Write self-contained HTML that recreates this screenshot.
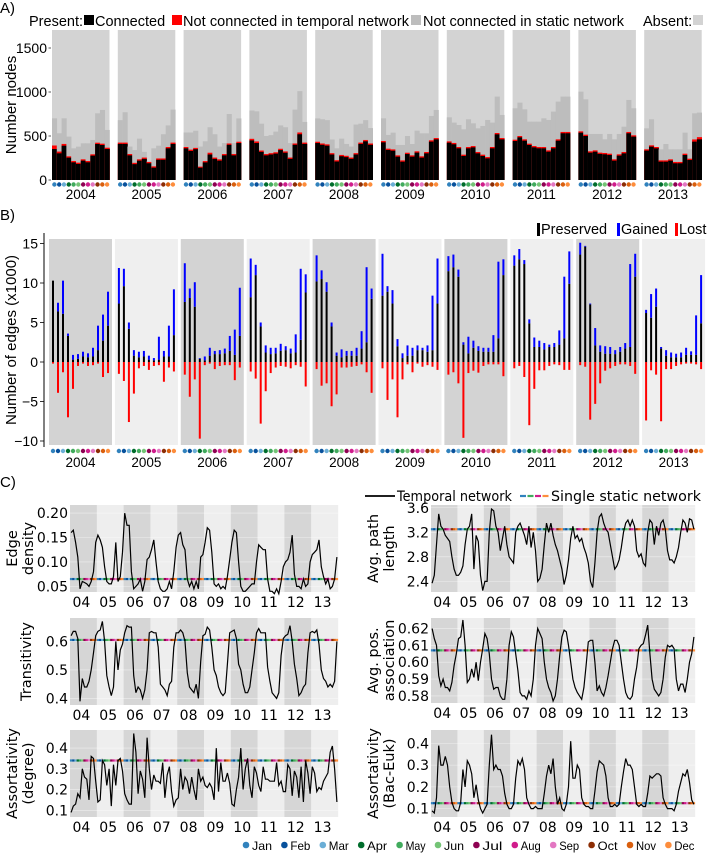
<!DOCTYPE html>
<html><head><meta charset="utf-8"><style>
body{margin:0;background:#fff}
svg{display:block;font-family:"Liberation Sans",sans-serif}
.dj{font-family:"DejaVu Sans",sans-serif}
</style></head><body>
<svg id="fig" width="708" height="854" viewBox="0 0 708 854"></svg>
<script>
// ===== Panel A data (nodes) =====
const years = ["2004","2005","2006","2007","2008","2009","2010","2011","2012","2013"];
const monthNames = ["Jan","Feb","Mar","Apr","May","Jun","Jul","Aug","Sep","Oct","Nov","Dec"];
const monthColors = ["#3182bd","#08519c","#6baed6","#006d2c","#41ab5d","#74c476","#8e0152","#d01c8b","#e377c2","#8c2d04","#d95f0e","#fd8d3c"];
const connected = [
 [352,303,390,254,201,182,220,201,277,409,398,352],
 [410,410,280,180,220,240,190,140,230,230,360,410],
 [360,330,350,140,200,290,240,220,280,400,280,420],
 [450,420,320,280,290,300,340,310,240,400,520,410],
 [420,400,390,290,210,270,260,240,290,410,440,400],
 [428,341,333,265,208,295,265,311,254,303,436,462],
 [424,406,360,273,360,371,303,273,246,360,519,462],
 [443,485,447,398,371,360,360,322,360,447,531,531],
 [538,500,311,322,296,292,284,220,277,303,531,493],
 [334,379,360,208,208,220,190,190,284,227,436,462]];
const notConnTemporal = [
 [40,20,20,15,15,15,15,15,15,15,15,15],
 [15,15,15,15,15,15,15,15,15,15,15,15],
 [15,15,15,12,15,20,15,15,15,15,15,15],
 [18,18,15,15,15,15,15,15,15,15,20,15],
 [15,15,15,15,15,15,15,15,15,15,15,15],
 [15,15,15,15,15,15,15,15,15,15,15,15],
 [15,15,15,15,15,15,15,15,15,15,15,15],
 [15,15,15,15,15,15,15,15,15,15,15,15],
 [15,15,15,15,15,15,15,15,15,15,15,15],
 [15,15,15,15,15,15,15,15,15,15,25,25]];
const presentTotal = [
 [701,531,701,493,360,379,417,417,455,758,796,569],
 [680,770,380,340,470,320,210,360,390,520,620,800],
 [540,540,560,380,440,600,520,380,420,750,420,700],
 [790,780,640,500,510,550,620,600,420,800,1010,660],
 [700,690,680,460,360,470,410,380,630,640,680,590],
 [701,512,538,398,398,500,409,561,530,530,728,796],
 [712,652,625,576,690,644,587,614,682,652,948,739],
 [815,879,803,663,663,663,701,682,777,891,948,948],
 [1004,917,523,523,523,462,523,462,523,606,910,815],
 [587,690,349,349,409,349,349,349,538,349,758,766]];
const aTicks = [0,500,1000,1500];

// ===== Panel B data (edges x1000) =====
const preserved = [
 [10.3,6.4,6.1,3.3,0.3,0.4,0.7,0.6,0.7,1.5,2.7,4.6],
 [7.4,9.6,4.2,0.8,0.6,0.7,0.3,0.2,0.3,0.7,0.7,3.4],
 [7.6,8.1,7.0,0.4,0.2,0.8,1.0,1.0,1.1,1.4,0.9,3.3],
 [8.2,11.0,4.5,1.2,1.0,1.1,1.4,1.5,1.1,1.2,2.8,8.8],
 [10.2,10.5,8.9,4.5,0.8,0.6,0.8,0.8,0.8,1.7,2.5,8.0],
 [8.4,8.9,7.4,2.0,0.5,0.8,0.8,1.5,1.5,1.3,1.5,7.4],
 [11.5,12.0,10.8,2.2,1.1,1.8,1.4,1.3,1.3,1.3,3.0,11.0],
 [12.2,13.0,12.4,4.9,1.9,1.9,1.6,1.9,1.9,2.2,3.0,9.9],
 [13.6,14.6,7.3,2.1,1.3,1.05,1.05,1.0,1.3,1.7,1.9,10.8],
 [6.2,5.6,7.0,1.7,0.8,0.6,0.6,0.6,0.9,0.9,0.9,4.9]];
const gained = [
 [0,1.1,4.2,0.3,0.6,0.6,0.6,0.5,1.1,3.1,3.3,4.3],
 [4.5,2.2,0.8,0.7,0.7,0.7,0.5,0.3,2.9,0.7,3.9,5.8],
 [4.9,1.2,3.1,0.1,0.5,1.0,0.4,0.5,0.6,1.9,3.2,6.1],
 [4.9,1.3,0.5,0.9,0.8,0.7,0.9,0.5,0.6,2.3,9.0,2.3],
 [3.3,1.1,1.2,0.5,0.4,1.0,0.6,0.6,1.0,2.2,9.5,1.3],
 [5.3,0.7,1.7,0.9,0.6,1.3,1.0,0.6,0.3,0.8,6.9,5.7],
 [1.9,1.6,0.9,0.3,2.1,0.9,0.6,0.5,0.5,2.1,9.7,2.0],
 [1.3,1.3,0.5,0.5,1.2,0.8,0.8,0.3,0.5,1.8,7.8,4.1],
 [1.5,0.1,0.1,2.2,0.8,0.95,0.85,0.5,0.6,0.7,10.5,2.9],
 [0.4,3.0,2.3,0.2,0.7,0.6,0.45,0.6,0.9,0.45,5.0,6.1]];
const lost = [
 [0.2,3.9,1.3,7.0,3.4,0.5,0.2,0.5,0.4,0.2,1.9,1.4],
 [1.5,2.4,7.6,4.0,0.8,0.5,1.0,0.5,0.4,2.5,0.7,1.2],
 [1.6,4.4,2.2,9.7,0.4,0.2,0.9,0.5,0.4,0.4,2.3,0.7],
 [1.2,2.1,7.8,3.7,1.4,0.7,0.5,0.6,0.8,0.4,0.6,3.1],
 [0.9,3.0,2.7,5.6,4.1,0.7,0.7,0.6,0.5,0.3,1.3,3.9],
 [0.8,4.8,2.2,7.0,2.2,0.3,1.3,0.2,0.6,0.4,0.6,1.0],
 [1.6,1.3,2.7,9.6,1.4,1.1,1.35,0.5,0.3,0.3,0.3,1.8],
 [0.8,0.5,1.9,8.0,3.4,1.05,1.05,0.5,0.3,0.4,1.0,1.0],
 [0.4,0.6,7.3,5.3,2.7,1.1,0.8,0.5,0.3,0.3,0.5,1.5],
 [7.4,1.05,1.6,7.5,0.9,0.9,0.5,0.3,0.2,0.2,0.3,0.9]];
const bTicks = [-10,-5,0,5,10,15];

// ===== Panel C data (monthly, 2004-2013) =====
const cYearLabels = ["04","05","06","07","08","09","10","11","12","13"];
const edgeDensity = [
 0.16,0.165,0.14,0.11,0.045,0.06,0.058,0.055,0.05,0.06,0.08,0.14,
 0.155,0.145,0.13,0.09,0.06,0.055,0.055,0.07,0.14,0.06,0.07,0.12,
 0.2,0.175,0.175,0.08,0.045,0.05,0.055,0.065,0.04,0.06,0.105,0.11,
 0.125,0.145,0.1,0.06,0.045,0.04,0.04,0.045,0.06,0.045,0.08,0.13,
 0.155,0.16,0.135,0.125,0.065,0.05,0.06,0.045,0.06,0.045,0.11,0.115,
 0.14,0.17,0.165,0.12,0.055,0.05,0.055,0.045,0.05,0.045,0.07,0.105,
 0.14,0.165,0.16,0.1,0.05,0.04,0.04,0.045,0.05,0.055,0.055,0.1,
 0.135,0.13,0.125,0.125,0.065,0.04,0.04,0.035,0.045,0.035,0.06,0.09,
 0.1,0.105,0.12,0.155,0.075,0.05,0.05,0.045,0.065,0.05,0.055,0.1,
 0.115,0.12,0.125,0.145,0.09,0.07,0.055,0.065,0.045,0.05,0.065,0.11];
const transitivity = [
 0.62,0.635,0.635,0.61,0.39,0.47,0.44,0.44,0.46,0.5,0.56,0.62,
 0.635,0.64,0.67,0.6,0.48,0.44,0.41,0.44,0.6,0.5,0.57,0.59,
 0.63,0.655,0.65,0.65,0.48,0.42,0.44,0.43,0.4,0.43,0.5,0.63,
 0.635,0.63,0.63,0.58,0.45,0.44,0.43,0.41,0.45,0.46,0.58,0.63,
 0.63,0.64,0.63,0.6,0.49,0.44,0.43,0.42,0.45,0.4,0.53,0.62,
 0.625,0.65,0.64,0.58,0.5,0.48,0.44,0.42,0.41,0.42,0.52,0.63,
 0.635,0.64,0.61,0.52,0.5,0.45,0.42,0.42,0.44,0.5,0.56,0.63,
 0.645,0.63,0.63,0.63,0.51,0.46,0.42,0.41,0.4,0.42,0.55,0.61,
 0.62,0.625,0.655,0.6,0.52,0.47,0.41,0.42,0.44,0.45,0.56,0.63,
 0.635,0.63,0.64,0.59,0.5,0.47,0.46,0.44,0.45,0.44,0.46,0.6];
const assortDegree = [
 0.09,0.12,0.13,0.18,0.16,0.3,0.26,0.25,0.15,0.36,0.35,0.24,
 0.14,0.15,0.34,0.32,0.22,0.3,0.12,0.32,0.22,0.34,0.35,0.29,
 0.18,0.15,0.13,0.13,0.47,0.38,0.18,0.29,0.25,0.16,0.45,0.3,
 0.2,0.27,0.24,0.24,0.23,0.33,0.16,0.27,0.31,0.19,0.12,0.15,
 0.16,0.3,0.2,0.26,0.24,0.18,0.26,0.2,0.15,0.3,0.24,0.26,
 0.22,0.21,0.23,0.21,0.15,0.4,0.19,0.33,0.24,0.24,0.28,0.23,
 0.13,0.12,0.2,0.26,0.4,0.2,0.3,0.35,0.22,0.16,0.31,0.28,
 0.22,0.19,0.31,0.25,0.25,0.24,0.24,0.24,0.33,0.22,0.24,0.19,
 0.19,0.32,0.3,0.17,0.29,0.26,0.16,0.31,0.14,0.34,0.28,0.18,
 0.31,0.28,0.19,0.21,0.2,0.24,0.26,0.28,0.38,0.41,0.3,0.14];
const pathLength = [
 2.37,2.5,3.0,3.5,3.3,3.25,3.15,3.1,3.05,2.8,2.6,2.5,
 2.5,2.55,2.65,3.0,3.25,3.3,3.5,2.6,3.15,3.05,2.5,2.25,
 2.4,2.4,3.2,3.58,3.55,3.3,3.2,2.9,3.1,3.3,3.0,2.8,
 2.75,2.7,3.2,3.3,3.35,3.25,3.15,3.0,3.3,2.95,3.2,2.9,
 2.4,2.45,2.6,3.0,3.35,3.2,3.35,3.15,3.0,2.9,2.75,2.6,
 2.35,2.5,2.75,3.1,3.3,3.1,3.15,3.05,3.1,2.95,2.85,2.7,
 2.4,2.3,2.7,3.2,3.45,3.5,3.35,3.25,3.2,3.0,2.8,2.6,
 2.65,2.75,2.95,3.2,3.35,3.4,3.3,3.4,3.3,2.9,2.8,2.85,
 2.7,2.65,3.2,3.4,3.35,3.0,3.3,3.15,3.35,3.4,3.25,2.9,
 2.75,2.75,2.7,2.8,2.95,3.2,3.4,3.35,3.2,3.42,3.4,3.25];
const posAssoc = [
 0.62,0.614,0.61,0.592,0.586,0.59,0.585,0.585,0.583,0.588,0.598,0.605,
 0.614,0.615,0.625,0.61,0.588,0.59,0.596,0.591,0.60,0.589,0.60,0.608,
 0.617,0.614,0.605,0.59,0.584,0.585,0.585,0.58,0.578,0.578,0.59,0.61,
 0.618,0.615,0.605,0.595,0.582,0.58,0.58,0.578,0.583,0.58,0.59,0.61,
 0.62,0.617,0.614,0.6,0.59,0.585,0.582,0.577,0.58,0.59,0.604,0.615,
 0.619,0.618,0.61,0.6,0.59,0.585,0.582,0.58,0.578,0.585,0.598,0.612,
 0.613,0.613,0.6,0.583,0.586,0.582,0.58,0.585,0.592,0.6,0.608,0.613,
 0.613,0.61,0.6,0.59,0.582,0.579,0.578,0.58,0.59,0.597,0.608,0.61,
 0.611,0.616,0.622,0.605,0.59,0.584,0.582,0.58,0.582,0.59,0.603,0.61,
 0.609,0.61,0.608,0.59,0.583,0.587,0.587,0.582,0.59,0.6,0.605,0.615];
const assortBacEuk = [
 0.09,0.08,0.15,0.39,0.3,0.3,0.34,0.3,0.2,0.13,0.1,0.09,
 0.09,0.13,0.28,0.2,0.32,0.3,0.26,0.15,0.21,0.14,0.1,0.08,
 0.1,0.12,0.3,0.44,0.28,0.3,0.28,0.28,0.25,0.17,0.12,0.1,
 0.1,0.12,0.24,0.32,0.3,0.33,0.28,0.15,0.12,0.1,0.1,0.11,
 0.1,0.1,0.1,0.17,0.25,0.3,0.26,0.33,0.2,0.12,0.15,0.1,
 0.09,0.12,0.2,0.41,0.24,0.24,0.3,0.28,0.15,0.12,0.11,0.11,
 0.1,0.1,0.18,0.27,0.32,0.31,0.3,0.25,0.15,0.11,0.11,0.12,
 0.11,0.12,0.2,0.27,0.33,0.3,0.3,0.28,0.2,0.12,0.11,0.12,
 0.11,0.11,0.17,0.25,0.24,0.25,0.26,0.26,0.25,0.15,0.12,0.1,
 0.1,0.1,0.09,0.12,0.18,0.22,0.26,0.25,0.28,0.22,0.14,0.12];
const staticValues = [0.065,0.605,0.34,3.25,0.607,0.125];
const edgeTicks = [0.05,0.10,0.15,0.20];
const transTicks = [0.4,0.5,0.6];
const assortTicks = [0.1,0.2,0.3,0.4];
const pathTicks = [2.4,2.8,3.2,3.6];
const posTicks = [0.58,0.59,0.60,0.61,0.62];
const bacTicks = [0.1,0.2,0.3,0.4];

const NS="http://www.w3.org/2000/svg";
const svg=document.getElementById('fig');
function el(tag,attrs,parent,text){const e=document.createElementNS(NS,tag);for(const k in attrs)e.setAttribute(k,attrs[k]);if(text!==undefined)e.textContent=text;(parent||svg).appendChild(e);return e;}

// ---------- Panel A ----------
const gA=el('g',{});


el('text',{x:0,y:13,'font-size':15},gA,'A)');
const aY=v=>180-v*0.088;
const aX0=52, aStep=65.8, aW=57.5;
years.forEach((yr,yi)=>{
  const px=aX0+yi*aStep, bw=aW/12;
  const bg=el('rect',{x:px,y:30,width:aW,height:150,fill:'#d3d3d3'},gA);
  
  
  for(let m=0;m<12;m++){
    const x=px+m*bw;
    const g=el('rect',{x:x,y:aY(presentTotal[yi][m]),width:bw+0.3,height:180-aY(presentTotal[yi][m]),fill:'#bdbdbd'},gA);
    
    
    const top=connected[yi][m]+notConnTemporal[yi][m];
    const r=el('rect',{x:x,y:aY(top),width:bw+0.3,height:180-aY(top),fill:'#ff0000'},gA);
    
    
    const b=el('rect',{x:x,y:aY(connected[yi][m]),width:bw+0.3,height:180-aY(connected[yi][m]),fill:'#000'},gA);
    
    
    const d=el('circle',{cx:x+bw/2,cy:184.5,r:2.2,fill:monthColors[m]},gA);
    
    
  }
  const t=el('text',{x:px+aW/2,y:199,'font-size':13.5,'text-anchor':'middle'},gA,yr);
  
  
});
aTicks.forEach(v=>{
  el('line',{x1:48.5,x2:51,y1:aY(v),y2:aY(v),stroke:'#333','stroke-width':0.8},gA);
  const t=el('text',{x:47,y:aY(v)+5,'font-size':14,'text-anchor':'end'},gA,String(v));
  
  
});
{const t=el('text',{transform:'translate(16,105) rotate(-90)','font-size':15,'text-anchor':'middle'},gA,'Number nodes');
}
// legend A
const legA=el('g',{},gA);


el('text',{x:29,y:26,'font-size':14.5},legA,'Present:');
el('rect',{x:84,y:15,width:10,height:10,fill:'#000'},legA);
el('text',{x:95,y:26,'font-size':14.5},legA,'Connected');
el('rect',{x:172,y:15,width:10,height:10,fill:'#ff0000'},legA);
el('text',{x:183,y:26,'font-size':14.5,textLength:226},legA,'Not connected in temporal network');
el('rect',{x:411,y:15,width:10,height:10,fill:'#bdbdbd'},legA);
el('text',{x:423,y:26,'font-size':14.5,textLength:201},legA,'Not connected in static network');
el('text',{x:643,y:26,'font-size':14.5},legA,'Absent:');
el('rect',{x:693,y:15,width:10,height:10,fill:'#d3d3d3'},legA);

// ---------- Panel B ----------
const gB=el('g',{});


el('text',{x:0,y:220,'font-size':15},gB,'B)');
const bY=v=>362-v*7.9;
const bX0=49, bStep=65.9, bW=63;
years.forEach((yr,yi)=>{
  const px=bX0+yi*bStep;
  const bg=el('rect',{x:px,y:239,width:bW,height:206,fill:yi%2===0?'#d3d3d3':'#efefef'},gB);
  
  
  for(let m=0;m<12;m++){
    const cx=px+4+m*5.0;
    const p=preserved[yi][m], g=gained[yi][m], l=lost[yi][m];
    const pb=el('rect',{x:cx-1,y:bY(p),width:2,height:bY(0)-bY(p),fill:'#000'},gB);
    
    
    const gb=el('rect',{x:cx-1,y:bY(p+g),width:2,height:bY(p)-bY(p+g),fill:'#0000ff'},gB);
    
    
    const lb=el('rect',{x:cx-1,y:bY(0),width:2,height:bY(-l)-bY(0),fill:'#ff0000'},gB);
    
    
    const d=el('circle',{cx:px+4+m*5.0,cy:451,r:2.2,fill:monthColors[m]},gB);
    
    
  }
  const t=el('text',{x:px+bW/2,y:467,'font-size':13.5,'text-anchor':'middle'},gB,yr);
  
  
});
el('line',{x1:44,x2:44,y1:233,y2:447,stroke:'#000','stroke-width':1},gB);
bTicks.forEach(v=>{
  el('line',{x1:40,x2:44,y1:bY(v),y2:bY(v),stroke:'#000','stroke-width':0.8},gB);
  const t=el('text',{x:38,y:bY(v)+5,'font-size':14,'text-anchor':'end'},gB,String(v).replace('-','\u2212'));
  
  
});
{const t=el('text',{transform:'translate(16,340) rotate(-90)','font-size':15,'text-anchor':'middle'},gB,'Number of edges (x1000)');
}
const legB=el('g',{},gB);


[['Preserved','#000',537],['Gained','#0000ff',617],['Lost','#ff0000',675]].forEach(([n,c,x])=>{
  el('rect',{x:x,y:223,width:3,height:13,fill:c},legB);
  el('text',{x:x+4,y:234,'font-size':14.5},legB,n);
});

// ---------- Panel C ----------
const gC=el('g',{class:'dj'});


el('text',{x:0,y:487,'font-size':15,'font-family':'Liberation Sans, sans-serif'},gC,'C)');
function subplot(name,series,staticV,ticks,dom,x0,x1,y0,y1,titles,tx,fmt){
  const g=el('g',{},gC);
  
  
  const yw=(x1-x0)/10;
  const Y=v=>y1-(v-dom[0])/(dom[1]-dom[0])*(y1-y0);
  const X=i=>x0+(i+0.5)*(x1-x0)/120;
  for(let k=0;k<10;k++){
    el('rect',{x:x0+k*yw,y:y0,width:yw+0.2,height:y1-y0,fill:k%2===0?'#d6d6d6':'#eeeeee'},g);
  }
  ticks.forEach(v=>{
    el('line',{x1:x0,x2:x1,y1:Y(v),y2:Y(v),stroke:'#fff','stroke-width':0.6,opacity:0.6},g);
    const t=el('text',{x:x0-2,y:Y(v)+5,'font-size':14,'text-anchor':'end'},g,v.toFixed(fmt));
    
    
  });
  for(let i=0;i<120;i++){
    const s=el('line',{x1:X(i)-1.2,x2:X(i)+1.2,y1:Y(staticV),y2:Y(staticV),stroke:monthColors[i%12],'stroke-width':2.2},g);
    
    
  }
  const d=series.map((v,i)=>(i?'L':'M')+X(i).toFixed(1)+','+Y(v).toFixed(1)).join('');
  const p=el('path',{d:d,fill:'none',stroke:'#000','stroke-width':1.2},g);
  
  
  cYearLabels.forEach((lab,k)=>{
    const t=el('text',{x:x0+k*yw+yw/2-2,y:y1+15,'font-size':14,'text-anchor':'middle'},g,lab);
    
    
  });
  const cy=(y0+y1)/2;
  titles.forEach((tt,j)=>{
    const t=el('text',{transform:`translate(${tx+j*16},${cy}) rotate(-90)`,'font-size':14.5,'text-anchor':'middle'},g,tt);
    
    
  });
}
subplot('edge-density-plot',edgeDensity,staticValues[0],edgeTicks,[0.0385,0.2165],70,338,505,592,['Edge','density'],17,2);
subplot('transitivity-plot',transitivity,staticValues[1],transTicks,[0.377,0.682],70,338,618,705,['Transitivity'],31,1);
subplot('assortativity-degree-plot',assortDegree,staticValues[2],assortTicks,[0.0677,0.487],70,338,730,817,['Assortativity','(degree)'],17,1);
subplot('path-length-plot',pathLength,staticValues[3],pathTicks,[2.227,3.645],431,695,505,592,['Avg. path','length'],378,1);
subplot('pos-association-plot',posAssoc,staticValues[4],posTicks,[0.5758,0.6262],431,695,618,703,['Avg. pos.','association'],378,2);
subplot('assortativity-bac-euk-plot',assortBacEuk,staticValues[5],bacTicks,[0.0615,0.4615],431,695,730,817,['Assortativity','(Bac-Euk)'],378,1);
// legend C
const legC=el('g',{},gC);


el('line',{x1:365,x2:395,y1:496,y2:496,stroke:'#000','stroke-width':1.8},legC);
el('text',{x:397,y:501,'font-size':14.5,textLength:115,lengthAdjust:'spacingAndGlyphs'},legC,'Temporal network');
['#3182bd','#41ab5d','#d01c8b','#fd8d3c'].forEach((c,i)=>el('line',{x1:520+i*7.5,x2:526+i*7.5,y1:496,y2:496,stroke:c,'stroke-width':2.2},legC));
el('text',{x:551,y:501,'font-size':14.5,textLength:150,lengthAdjust:'spacingAndGlyphs'},legC,'Single static network');
// month legend
monthNames.forEach((mn,m)=>{
  const x=243+m*38.4;
  const c=el('circle',{cx:x+3,cy:845,r:3.3,fill:monthColors[m]},legC);
  
  
  el('text',{x:x+9,y:850,'font-size':12,'font-family':'Liberation Sans, sans-serif',textLength:20,lengthAdjust:'spacingAndGlyphs'},legC,mn);
});
</script>
</body></html>
